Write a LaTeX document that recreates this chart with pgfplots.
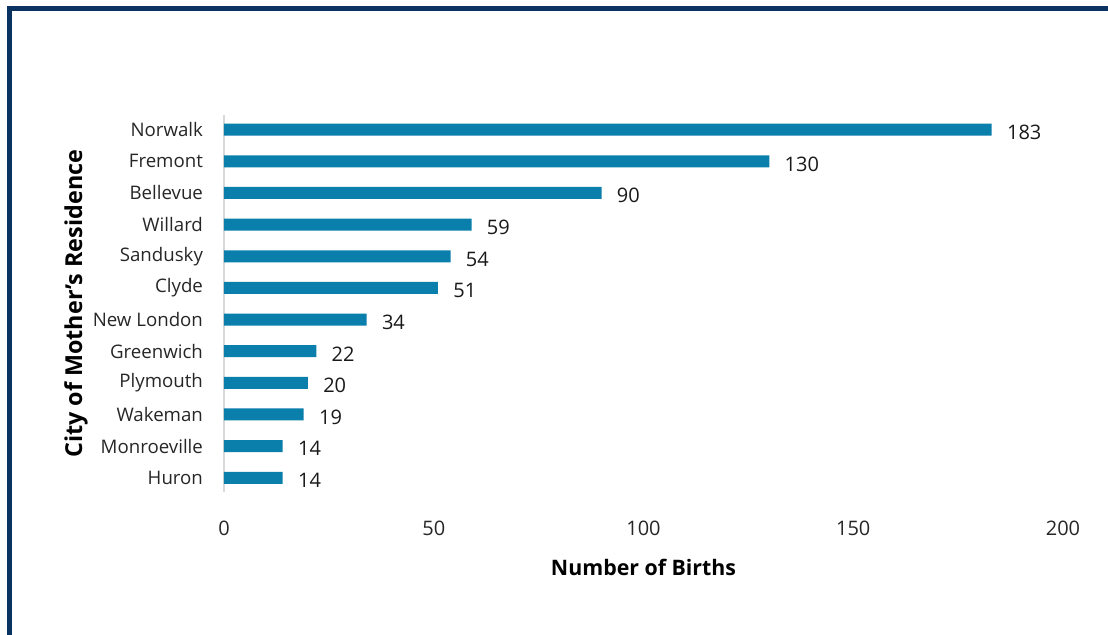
\documentclass[border=0pt]{standalone}
\usepackage{pgfplots}
\pgfplotsset{compat=1.18}
\usepackage{fontspec}
\setmainfont{Open Sans}
\definecolor{barblue}{HTML}{0B7FAB}
\definecolor{navy}{HTML}{0B3361}
\definecolor{axgray}{HTML}{D9D9D9}
\begin{document}
\begin{tikzpicture}
\path[use as bounding box] (0,0) rectangle (831pt,476.25pt);
\draw[navy, line width=3.75pt] (7.125pt,-5pt) -- (7.125pt,469.875pt) -- (840pt,469.875pt);
\begin{axis}[
  at={(168pt,107.25pt)}, anchor=south west,
  scale only axis, width=629.25pt, height=282.4pt,
  xbar, bar width=9pt,
  xmin=0, xmax=200, ymin=-0.45, ymax=11.45,
  xtick={0,50,100,150,200},
  ytick={0,...,11},
  yticklabels={Huron,Monroeville,Wakeman,Plymouth,Greenwich,New London,Clyde,Sandusky,Willard,Bellevue,Fremont,Norwalk},
  /pgf/number format/assume math mode=true,
  tick style={draw=none},
  axis x line*=bottom,
  axis y line*=left,
  y axis line style={axgray, line width=0.9pt, -},
  x axis line style={draw=none, -},
  ticklabel style={font=\fontsize{14pt}{17pt}\selectfont, text=black!85},
  xticklabel style={yshift=-18.5pt, font=\fontsize{15pt}{18pt}\selectfont},
  yticklabel style={xshift=-8pt},
  xlabel={\textbf{Number of Births}},
  ylabel={\textbf{City of Mother\symbol{"27}s Residence}},
  label style={font=\fontsize{17.5pt}{20pt}\selectfont},
  xlabel style={at={(0.5,0)}, anchor=north, yshift=-46.5pt, font=\fontsize{16pt}{19pt}\selectfont},
  ylabel style={yshift=-3pt},
  nodes near coords,
  nodes near coords style={anchor=west, xshift=8pt, yshift=-2pt, font=\fontsize{15pt}{18pt}\selectfont, text=black!90},
]
\addplot[fill=barblue, draw=none] coordinates {
(14,0) (14,1) (19,2) (20,3) (22,4) (34,5) (51,6) (54,7) (59,8) (90,9) (130,10) (183,11)
};
\end{axis}
\end{tikzpicture}
\end{document}
